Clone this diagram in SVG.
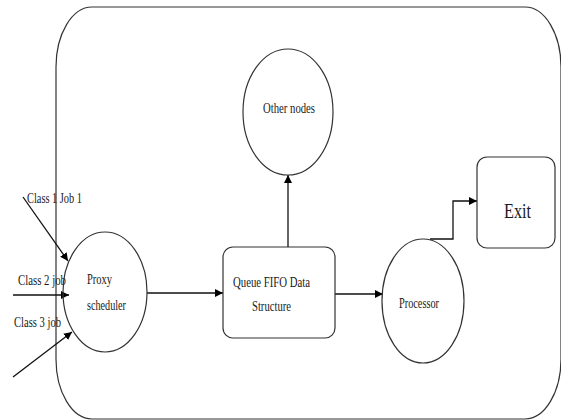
<svg xmlns="http://www.w3.org/2000/svg" width="561" height="420" viewBox="0 0 561 420">
<style>
.shape{fill:none;stroke:#333;stroke-width:1.2}
.conn{fill:none;stroke:#111;stroke-width:1.3}
text{font-family:"Liberation Serif","Times New Roman",serif;font-size:15px;fill:#1a1a1a}
</style>
<defs>
<marker id="ah" viewBox="0 0 10 10" refX="10" refY="5" markerWidth="8" markerHeight="8" markerUnits="userSpaceOnUse" orient="auto">
<path d="M0,0 L10,5 L0,10 z" fill="#000"/>
</marker>
</defs>
<rect width="561" height="420" fill="#fff"/>
<g id="boundary">
<path class="shape" d="M92,7 H525 A36,60 0 0 1 561,67 V359 A36,60 0 0 1 525,419 H92 A36,60 0 0 1 56,359 V67 A36,60 0 0 1 92,7 Z"/>
</g>
<g id="connectors">
<line class="conn" x1="23" y1="197" x2="68" y2="261" marker-end="url(#ah)"/>
<line class="conn" x1="13" y1="295" x2="69" y2="295" marker-end="url(#ah)"/>
<line class="conn" x1="13" y1="377" x2="72" y2="332" marker-end="url(#ah)"/>
<line class="conn" x1="147" y1="293" x2="223" y2="293" marker-end="url(#ah)"/>
<line class="conn" x1="288" y1="247" x2="288" y2="175" marker-end="url(#ah)"/>
<line class="conn" x1="335" y1="294" x2="383" y2="294" marker-end="url(#ah)"/>
<polyline class="conn" points="430,239 453,239 453,201 477,201" marker-end="url(#ah)"/>
</g>
<g id="labels">
<text x="27" y="203" textLength="55" lengthAdjust="spacingAndGlyphs">Class 1 Job 1</text>
<text x="18" y="285" textLength="48" lengthAdjust="spacingAndGlyphs">Class 2 job</text>
<text x="14" y="327" textLength="47" lengthAdjust="spacingAndGlyphs">Class 3 job</text>
</g>
<g id="proxy">
<ellipse class="shape" cx="105" cy="292" rx="42" ry="60"/>
<text x="87" y="284" textLength="25" lengthAdjust="spacingAndGlyphs">Proxy</text>
<text x="87" y="310" textLength="39" lengthAdjust="spacingAndGlyphs">scheduler</text>
</g>
<g id="queue">
<rect class="shape" x="223" y="247" width="112" height="91" rx="10" ry="10"/>
<text x="233" y="287" textLength="77" lengthAdjust="spacingAndGlyphs">Queue FIFO Data</text>
<text x="252" y="311" textLength="39" lengthAdjust="spacingAndGlyphs">Structure</text>
</g>
<g id="other">
<ellipse class="shape" cx="288" cy="112" rx="45" ry="63"/>
<text x="263" y="113" textLength="52" lengthAdjust="spacingAndGlyphs">Other nodes</text>
</g>
<g id="processor">
<ellipse class="shape" cx="423" cy="301" rx="41" ry="62"/>
<text x="399" y="308" textLength="40" lengthAdjust="spacingAndGlyphs">Processor</text>
</g>
<g id="exit">
<rect class="shape" x="477" y="157" width="78" height="91" rx="10" ry="10"/>
<text x="504" y="218" style="font-size:22px" textLength="27" lengthAdjust="spacingAndGlyphs">Exit</text>
</g>
</svg>
